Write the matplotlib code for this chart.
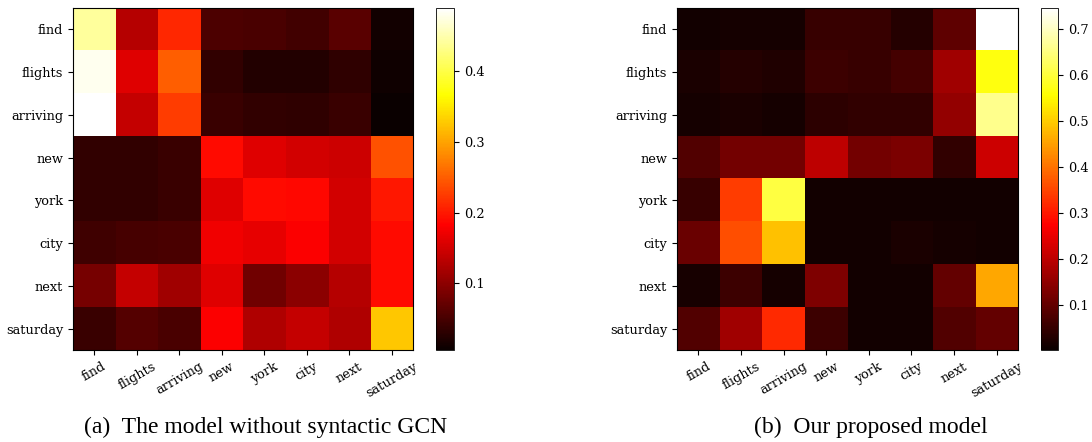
'''
Attention heatmaps: without syntactic GCN vs proposed model
'''

# Imports
import numpy as np
import matplotlib
matplotlib.use("Agg")
import matplotlib.pyplot as plt


# Data
words = ["find", "flights", "arriving", "new", "york", "city", "next", "saturday"]

# (a) model without syntactic GCN
attn_a = [
    [0.440, 0.130, 0.210, 0.055, 0.052, 0.047, 0.064, 0.012],
    [0.480, 0.160, 0.250, 0.036, 0.024, 0.024, 0.033, 0.010],
    [0.489, 0.140, 0.226, 0.040, 0.036, 0.033, 0.040, 0.006],
    [0.036, 0.036, 0.040, 0.190, 0.160, 0.150, 0.147, 0.240],
    [0.036, 0.036, 0.040, 0.160, 0.190, 0.188, 0.150, 0.200],
    [0.045, 0.050, 0.053, 0.173, 0.165, 0.180, 0.150, 0.190],
    [0.085, 0.140, 0.115, 0.160, 0.080, 0.100, 0.130, 0.190],
    [0.040, 0.060, 0.053, 0.180, 0.125, 0.140, 0.125, 0.325],
]

# (b) our proposed model
attn_b = [
    [0.013, 0.016, 0.016, 0.054, 0.054, 0.033, 0.095, 0.746],
    [0.022, 0.033, 0.027, 0.060, 0.054, 0.068, 0.170, 0.566],
    [0.014, 0.022, 0.014, 0.041, 0.046, 0.046, 0.155, 0.660],
    [0.082, 0.120, 0.120, 0.200, 0.120, 0.128, 0.046, 0.218],
    [0.054, 0.340, 0.605, 0.011, 0.011, 0.011, 0.011, 0.011],
    [0.109, 0.360, 0.490, 0.013, 0.013, 0.022, 0.016, 0.013],
    [0.019, 0.060, 0.016, 0.130, 0.011, 0.011, 0.103, 0.460],
    [0.082, 0.170, 0.320, 0.060, 0.011, 0.011, 0.082, 0.103],
]

limits_a = (0.006, 0.489)
limits_b = (0.002, 0.746)

captions = ["(a)  The model without syntactic GCN", "(b)  Our proposed model"]


# Plot
fig = plt.figure(figsize=(10.92, 4.42), dpi=100)

panels = [
    (attn_a, limits_a, [0.0668, 0.208, 0.3114, 0.774], [0.3993, 0.208, 0.0165, 0.774],
     [0.1, 0.2, 0.3, 0.4], 0.243),
    (attn_b, limits_b, [0.6200, 0.208, 0.3123, 0.774], [0.9533, 0.208, 0.0156, 0.774],
     [0.1, 0.2, 0.3, 0.4, 0.5, 0.6, 0.7], 0.797),
]

for (data, lim, axpos, cbpos, cticks, capx), cap in zip(panels, captions):
    ax = fig.add_axes(axpos)
    cax = fig.add_axes(cbpos)
    im = ax.imshow(np.array(data), cmap="hot", vmin=lim[0], vmax=lim[1],
                   aspect="auto", interpolation="nearest")
    ax.set_xticks(range(len(words)))
    ax.set_yticks(range(len(words)))
    ax.set_xticklabels(words, rotation=30, family="DejaVu Serif", fontsize=9.3)
    ax.set_yticklabels(words, family="DejaVu Serif", fontsize=9.3)
    cb = fig.colorbar(im, cax=cax, ticks=cticks)
    cb.outline.set_linewidth(0.6)
    for lab in cax.get_yticklabels():
        lab.set_family("DejaVu Serif")
        lab.set_fontsize(9.3)
    fig.text(capx, 0.032, cap, ha="center", va="center",
             family="Liberation Serif", fontsize=17)

fig.savefig("out.png", dpi=100)
